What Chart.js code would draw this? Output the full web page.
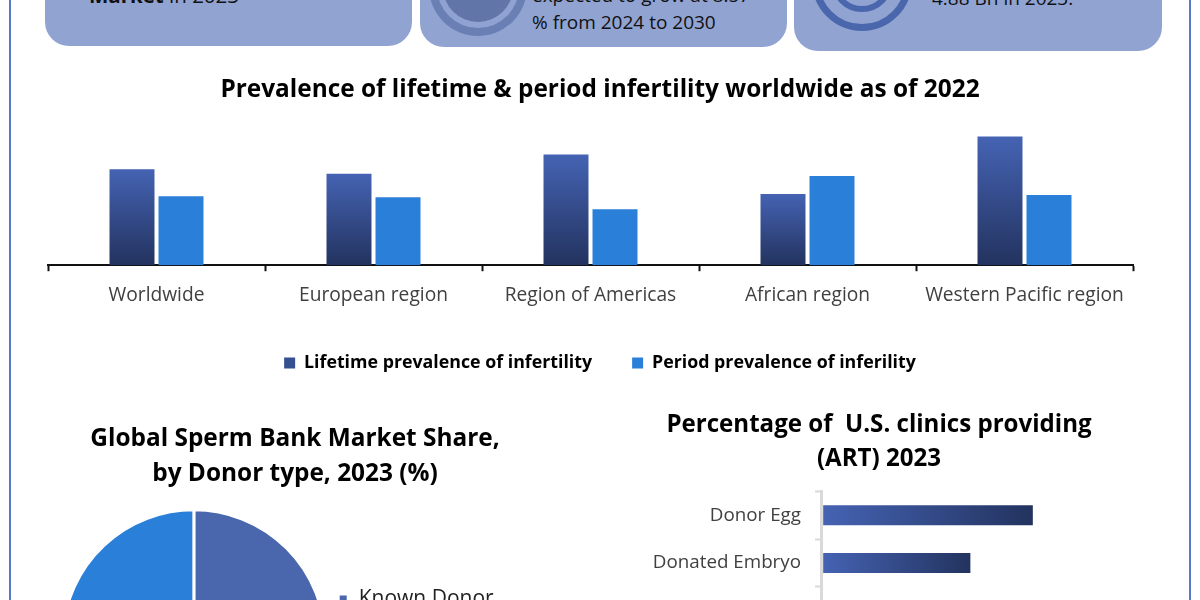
<!DOCTYPE html>
<html>
<head>
<meta charset="utf-8">
<title>Sperm bank market</title>
<script src="https://cdn.jsdelivr.net/npm/chart.js@4"></script>
<style>
  html, body { margin: 0; padding: 0; background: #fff; }
  #page { position: relative; width: 1200px; height: 600px; overflow: hidden; font-family: "Open Sans", sans-serif; color: #111; }
  #page > * { position: absolute; }
  canvas { display: block; }
  .frame { top: 0; bottom: 0; width: 2px; background: #5b78c8; }
  .panel { background: #90a3d1; border-radius: 24px; top: -40px; }
  .ring { border-radius: 50%; box-sizing: border-box; }
  .line { font-size: 19px; white-space: nowrap; line-height: 26px; }
</style>
</head>
<body>
<div id="page">
  <div class="frame" style="left:9px"></div>
  <div class="frame" style="left:1189px"></div>

  <div class="panel" style="left:45px;width:367px;height:86px"></div>
  <div class="panel" style="left:420px;width:367px;height:87px"></div>
  <div class="panel" style="left:794px;width:368px;height:91px"></div>

  <div class="ring" style="left:429px;top:-62px;width:98px;height:98px;background:#6a80b5"></div>
  <div class="ring" style="left:437px;top:-54px;width:82px;height:82px;background:#8fa2d2"></div>
  <div class="ring" style="left:443px;top:-48px;width:70px;height:70px;background:#6275a8"></div>
  <div class="ring" style="left:812px;top:-69px;width:100px;height:100px;border:7px solid #4a66ad"></div>
  <div class="ring" style="left:831px;top:-50px;width:62px;height:62px;border:6px solid #4a66ad"></div>

  <div class="line" style="left:89px;top:-18px;font-size:20.5px"><b>Market</b> in 2023</div>
  <div class="line" style="left:532px;top:-18px">expected to grow at 8.57</div>
  <div class="line" style="left:532px;top:9px">% from 2024 to 2030</div>
  <div class="line" style="left:932px;top:-15px">4.88 Bn in 2023.</div>

  <canvas id="prevalenceChart" width="1200" height="307" style="left:0;top:75px"></canvas>
  <canvas id="donorChart" width="470" height="364" style="left:60px;top:410px"></canvas>
  <canvas id="clinicChart" width="478" height="253" style="left:640px;top:407px"></canvas>
</div>

<script>
// values (no value axis in the reference)
const regions = ['Worldwide', 'European region', 'Region of Americas', 'African region', 'Western Pacific region'];
const lifetimeValues = [17.5, 16.7, 20.2, 13.0, 23.5];
const periodValues = [12.6, 12.4, 10.2, 16.3, 12.8];

// the second legend entry and the slice split are below the crop, best guess
const donorTypes = ['Known Donor', 'Unknown Donor'];
const donorShares = [52, 48];

// third category sits below the crop, only its tick shows
const clinicServices = ['Donor Egg', 'Donated Embryo', ''];
const clinicPercent = [96, 67.4, null];

const titleFont = { family: 'Open Sans', size: 24.4, weight: 'bold', lineHeight: 1.42 };

function barGradient(ctx, horizontal) {
    const chart = ctx.chart;
    const value = ctx.parsed ? (horizontal ? ctx.parsed.x : ctx.parsed.y) : NaN;
    if (!chart.chartArea || !Number.isFinite(value)) return '#34497f';
    const g = horizontal
        ? chart.ctx.createLinearGradient(chart.scales.x.getPixelForValue(0), 0, chart.scales.x.getPixelForValue(value), 0)
        : chart.ctx.createLinearGradient(0, chart.scales.y.getPixelForValue(value), 0, chart.scales.y.getPixelForValue(0));
    g.addColorStop(0, '#4563b3');
    g.addColorStop(1, '#23335f');
    return g;
}

// invisible side axis, only keeps the plot off the canvas edge so the title stays centred on the page
function spacerAxis(position, width) {
    return {
        position: position,
        afterFit: scale => { scale.width = width; },
        grid: { display: false },
        border: { display: false },
        ticks: { display: false }
    };
}

new Chart(document.getElementById('prevalenceChart'), {
    type: 'bar',
    data: {
        labels: regions,
        datasets: [
            { label: 'Lifetime prevalence of infertility', data: lifetimeValues, backgroundColor: ctx => barGradient(ctx, false) },
            { label: 'Period prevalence of inferility', data: periodValues, backgroundColor: '#2a7fd9' }
        ]
    },
    options: {
        responsive: false,
        animation: false,
        categoryPercentage: 0.4516,
        barPercentage: 0.918,
        scales: {
            x: {
                afterFit: scale => { scale.height = 49; },
                grid: { drawOnChartArea: false, tickColor: '#111', tickLength: 6, tickWidth: 2 },
                border: { color: '#111', width: 2 },
                ticks: { color: '#404040', font: { family: 'Open Sans', size: 19.2 }, padding: 13, maxRotation: 0 }
            },
            y: { ...spacerAxis('left', 48), min: 0, max: 25 },
            rightGap: spacerAxis('right', 67)
        },
        plugins: {
            tooltip: { enabled: false },
            title: { display: true, text: 'Prevalence of lifetime & period infertility worldwide as of 2022', color: '#000', font: { ...titleFont, lineHeight: 1.2 }, padding: { top: 0, bottom: 24 } },
            legend: {
                position: 'bottom',
                labels: {
                    color: '#111',
                    font: { family: 'Open Sans', size: 17.8, weight: 'bold' },
                    boxWidth: 11,
                    boxHeight: 11,
                    padding: 40,
                    generateLabels: () => [
                        { text: 'Lifetime prevalence of infertility', fillStyle: '#34508f', strokeStyle: '#34508f', lineWidth: 0, datasetIndex: 0 },
                        { text: 'Period prevalence of inferility', fillStyle: '#2a7fd9', strokeStyle: '#2a7fd9', lineWidth: 0, datasetIndex: 1 }
                    ]
                }
            }
        }
    }
});

new Chart(document.getElementById('donorChart'), {
    type: 'pie',
    data: {
        labels: donorTypes,
        datasets: [{ data: donorShares, backgroundColor: ['#4a66ad', '#2a7fd9'], borderColor: '#fff', borderWidth: 3 }]
    },
    options: {
        responsive: false,
        animation: false,
        plugins: {
            tooltip: { enabled: false },
            title: { display: true, text: ['Global Sperm Bank Market Share,', 'by Donor type, 2023 (%)'], color: '#000', font: titleFont, padding: { top: 12, bottom: 17 } },
            legend: {
                position: 'right',
                align: 'start',
                // empty legend title pushes the items down to where the reference has them
                title: { display: true, text: ' ', font: { size: 10 }, padding: { top: 156, bottom: 0 } },
                labels: { color: '#222', font: { family: 'Open Sans', size: 21 }, boxWidth: 10, boxHeight: 10, padding: 10.5 }
            }
        }
    }
});

new Chart(document.getElementById('clinicChart'), {
    type: 'bar',
    data: {
        labels: clinicServices,
        datasets: [{ data: clinicPercent, backgroundColor: ctx => barGradient(ctx, true) }]
    },
    options: {
        indexAxis: 'y',
        responsive: false,
        animation: false,
        categoryPercentage: 0.42,
        barPercentage: 1,
        scales: {
            x: { display: false, min: -1, max: 135 },
            y: {
                afterFit: scale => { scale.width = 181; },
                grid: { drawOnChartArea: false, tickColor: '#d9d9d9', tickLength: 6, tickWidth: 2 },
                border: { color: '#d9d9d9', width: 3 },
                ticks: { color: '#404040', font: { family: 'Open Sans', size: 18.8 }, padding: 14 }
            }
        },
        plugins: {
            tooltip: { enabled: false },
            legend: { display: false },
            title: { display: true, text: ['Percentage of  U.S. clinics providing', '(ART) 2023'], color: '#000', font: { ...titleFont, size: 24.1, lineHeight: 1.42 }, padding: { top: 1, bottom: 15 } }
        }
    }
});
</script>
</body>
</html>
